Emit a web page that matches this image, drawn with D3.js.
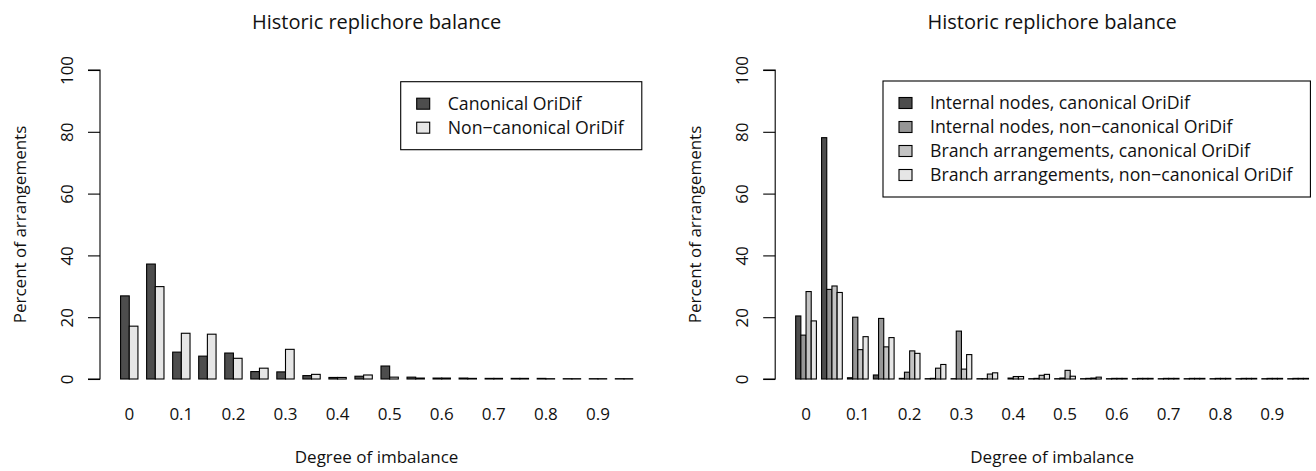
<!DOCTYPE html>
<html>
<head>
<meta charset="utf-8">
<script src="https://cdn.jsdelivr.net/npm/d3@7"></script>
<style>
  html, body { margin: 0; padding: 0; background: #fff; }
  svg { display: block; font-family: "Open Sans", "DejaVu Sans", sans-serif; }
  text { fill: #111; }
</style>
</head>
<body>
<svg id="chart" width="1316" height="471"></svg>
<script>
// Degree-of-imbalance bins (0 to 0.95 in steps of 0.05)
const imbalance = ["0","0.05","0.1","0.15","0.2","0.25","0.3","0.35","0.4","0.45",
                   "0.5","0.55","0.6","0.65","0.7","0.75","0.8","0.85","0.9","0.95"];
// Axis names: only every other bin is labelled
const binNames = ["0","","0.1","","0.2","","0.3","","0.4","",
                  "0.5","","0.6","","0.7","","0.8","","0.9",""];
const yTicks = [0, 20, 40, 60, 80, 100];

// Left panel: percent of arrangements
const canonical    = [26.9, 37.2, 8.7, 7.4, 8.4, 2.4, 2.3, 1.1, 0.5, 0.9, 4.2, 0.6, 0.3, 0.3, 0.2, 0.2, 0.2, 0.1, 0.1, 0.1];
const nonCanonical = [17.1, 29.9, 14.8, 14.5, 6.7, 3.5, 9.6, 1.5, 0.5, 1.3, 0.6, 0.3, 0.3, 0.2, 0.2, 0.2, 0.1, 0.1, 0.1, 0.1];
const leftSeries = ["Canonical OriDif", "Non\u2212canonical OriDif"];

// Right panel: internal nodes vs. branch arrangements
const internalCanonical    = [20.4, 78.1, 0.4, 1.3, 0.2, 0.1, 0.1, 0.1, 0.0, 0.1, 0.1, 0.1, 0.1, 0.1, 0.1, 0.1, 0.1, 0.1, 0.1, 0.1];
const internalNonCanonical = [14.2, 29.0, 20.0, 19.6, 2.2, 0.2, 15.5, 0.1, 0.3, 0.2, 0.3, 0.2, 0.2, 0.2, 0.2, 0.2, 0.2, 0.2, 0.2, 0.2];
const branchCanonical      = [28.3, 30.1, 9.5, 10.4, 9.1, 3.5, 3.2, 1.6, 0.8, 1.2, 2.8, 0.3, 0.2, 0.2, 0.2, 0.2, 0.2, 0.2, 0.2, 0.2];
const branchNonCanonical   = [18.8, 28.0, 13.7, 13.4, 8.3, 4.7, 7.9, 2.0, 0.8, 1.5, 0.9, 0.6, 0.2, 0.2, 0.2, 0.2, 0.2, 0.2, 0.2, 0.2];
const rightSeries = ["Internal nodes, canonical OriDif",
                     "Internal nodes, non\u2212canonical OriDif",
                     "Branch arrangements, canonical OriDif",
                     "Branch arrangements, non\u2212canonical OriDif"];

const svg = d3.select("#chart");
const FS = 17;          // axis font size
const LFS = 17.7;       // legend font size
const yScale = d3.scaleLinear().domain([0, 100]).range([379, 70]);

function panel(opts) {
  const { values, names, colors, axisX, unit0, unitW, legend } = opts;
  const n = values.length;
  const per = n + 1;                        // one gap unit + n bars per bin
  const totalUnits = imbalance.length * per;
  const g = svg.append("g");

  // bins: each band holds a leading gap plus the bars
  const xBin = d3.scaleBand().domain(imbalance)
    .range([unit0, unit0 + totalUnits * unitW]).paddingInner(0).paddingOuter(0);
  const bw = xBin.bandwidth();
  const xSeries = d3.scaleBand().domain(d3.range(n)).range([bw / per, bw]).padding(0);

  const rows = imbalance.map((b, i) => ({ bin: b, vals: values.map(v => v[i]) }));
  const bins = g.selectAll("g.bin").data(rows).join("g")
    .attr("class", "bin")
    .attr("transform", d => `translate(${xBin(d.bin)},0)`);
  bins.selectAll("rect").data(d => d.vals.map((v, k) => ({ v, k }))).join("rect")
    .attr("x", d => xSeries(d.k))
    .attr("width", xSeries.bandwidth())
    .attr("y", d => yScale(d.v))
    .attr("height", d => yScale(0) - yScale(d.v))
    .attr("fill", d => colors[d.k])
    .attr("stroke", "#000")
    .attr("stroke-width", 1.1);

  // bin names under every other bin
  g.selectAll("text.bin-name").data(imbalance.map((b, i) => ({ b, name: binNames[i] })).filter(d => d.name))
    .join("text")
    .attr("class", "bin-name")
    .attr("x", d => xBin(d.b) + bw / per + (bw - bw / per) / 2)
    .attr("y", 419.5)
    .attr("text-anchor", "middle")
    .style("font-size", FS + "px")
    .text(d => d.name);

  // y axis with vertical tick labels
  const ax = g.append("g").attr("transform", `translate(${axisX},0)`)
    .call(d3.axisLeft(yScale).tickValues(yTicks).tickSize(12).tickFormat(""));
  ax.select(".domain").attr("stroke", "#000").attr("stroke-width", 1.1)
    .attr("d", `M-12,${yScale(0)}H0V${yScale(100)}H-12`);
  ax.selectAll(".tick line").attr("stroke", "#000").attr("stroke-width", 1.1);
  ax.selectAll(".tick").append("text")
    .attr("transform", "translate(-27,0) rotate(-90)")
    .attr("text-anchor", "middle")
    .attr("fill", "#111")
    .style("font-size", FS + "px")
    .style("font-family", "\"Open Sans\", sans-serif")
    .text(d => d);

  // plot region extends 4% beyond the outermost bars
  const left = axisX;
  const right = unit0 + (totalUnits + (totalUnits - 1) * 0.04) * unitW;
  const mid = (left + right) / 2;

  g.append("text").attr("x", mid).attr("y", 29).attr("text-anchor", "middle")
    .style("font-size", "20px").text("Historic replichore balance");
  g.append("text").attr("x", mid).attr("y", 463).attr("text-anchor", "middle")
    .style("font-size", FS + "px").text("Degree of imbalance");
  g.append("text").attr("transform", `translate(${axisX - 74},${(yScale(-4) + yScale(104)) / 2}) rotate(-90)`)
    .attr("text-anchor", "middle").style("font-size", FS + "px").text("Percent of arrangements");

  // legend
  const lg = g.append("g");
  const box = lg.append("rect").attr("fill", "#fff").attr("stroke", "#000").attr("stroke-width", 1.1);
  const rowH = 24;
  const items = lg.selectAll("g.item").data(names).join("g").attr("class", "item")
    .attr("transform", (d, i) => `translate(${legend.x},${legend.y + 22 + i * rowH})`);
  items.append("rect").attr("x", 16).attr("y", -5.5).attr("width", 13).attr("height", 11)
    .attr("fill", (d, i) => colors[i]).attr("stroke", "#000").attr("stroke-width", 1.1);
  const labels = items.append("text").attr("x", 47).attr("y", 6)
    .style("font-size", LFS + "px").text(d => d);
  let maxW = 0;
  labels.each(function () { maxW = Math.max(maxW, this.getComputedTextLength()); });
  box.attr("x", legend.x).attr("y", legend.y)
    .attr("width", 47 + maxW + 18)
    .attr("height", 44 + (names.length - 1) * rowH);
}

panel({
  values: [canonical, nonCanonical],
  names: leftSeries,
  colors: ["#4D4D4D", "#E6E6E6"],
  axisX: 100, unit0: 111.9, unitW: 8.68,
  legend: { x: 400.7, y: 81.7 }
});

panel({
  values: [internalCanonical, internalNonCanonical, branchCanonical, branchNonCanonical],
  names: rightSeries,
  colors: ["#4D4D4D", "#969696", "#C3C3C3", "#E6E6E6"],
  axisX: 775.2, unit0: 790.5, unitW: 5.18,
  legend: { x: 883, y: 81 }
});
</script>
</body>
</html>
